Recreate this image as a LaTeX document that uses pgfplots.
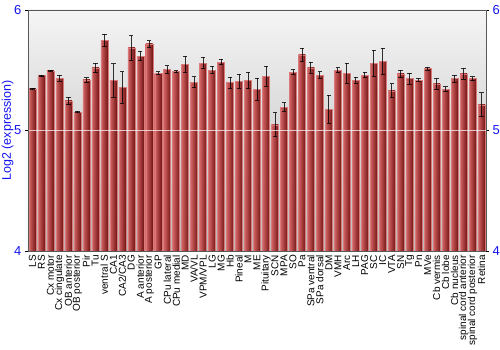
\documentclass[border=0pt]{standalone}
\usepackage{pgfplots}
\usepackage{pgfplotstable}
\pgfplotsset{compat=1.18}
\usepackage{fontspec}
\setmainfont{Liberation Sans}
\definecolor{barL}{RGB}{212,100,100}
\definecolor{barM}{RGB}{190,58,58}
\definecolor{barR}{RGB}{115,20,20}
\definecolor{tickblue}{RGB}{20,20,240}
\pgfplotstableread{
x y e
0 5.345 0.004
1 5.455 0.004
2 5.494 0.008
3 5.433 0.025
4 5.245 0.030
5 5.153 0.005
6 5.420 0.018
7 5.519 0.040
8 5.748 0.052
9 5.416 0.140
10 5.358 0.130
11 5.685 0.103
12 5.618 0.040
13 5.718 0.028
14 5.477 0.010
15 5.505 0.031
16 5.488 0.008
17 5.549 0.066
18 5.400 0.046
19 5.560 0.048
20 5.502 0.030
21 5.568 0.022
22 5.397 0.046
23 5.408 0.058
24 5.419 0.066
25 5.342 0.090
26 5.450 0.083
27 5.048 0.100
28 5.195 0.035
29 5.485 0.020
30 5.627 0.055
31 5.521 0.047
32 5.460 0.028
33 5.176 0.115
34 5.500 0.020
35 5.477 0.083
36 5.416 0.024
37 5.460 0.022
38 5.557 0.110
39 5.571 0.110
40 5.330 0.058
41 5.469 0.032
42 5.430 0.047
43 5.419 0.015
44 5.513 0.012
45 5.386 0.043
46 5.342 0.020
47 5.430 0.030
48 5.471 0.046
49 5.430 0.017
50 5.214 0.100
}\datatable
\begin{document}
\begin{tikzpicture}
\begin{axis}[
  name=main,
  scale only axis, width=458pt, height=241pt,
  xmin=-0.5, xmax=50.5, ymin=4, ymax=6,
  ytick={4,5,6},
  ytick pos=left,
  yticklabel style={tickblue, font=\fontsize{13}{13}\selectfont},
  /pgf/number format/assume math mode=true,
  ylabel={Log2 (expression)},
  ylabel style={tickblue, font=\fontsize{12.5}{12.5}\selectfont, yshift=-6pt},
  xtick={0,...,50},
  xticklabels={LS,RS,Cx motor,Cx cingulate,OB anterior,OB posterior,Pir,Tu,ventral S,CA1,CA2/CA3,DG,A anterior,A posterior,GP,CPu lateral,CPu medial,MD,VA/VL,VPM/VPL,LG,MG,Hb,Pineal,M,ME,Pituitary,SCN,MPA,SO,Pa,SPa ventral,SPa dorsal,DM,VMH,Arc,LH,PAG,SC,IC,VTA,SN,Tg,Pn,MVe,Cb vermis,Cb lobe,Cb nucleus,spinal cord anterior,spinal cord posterior,Retina},
  xticklabel style={rotate=90, anchor=east, font=\fontsize{10}{10}\selectfont, inner sep=1pt},
  x tick style={draw=none},
  y tick style={black, line width=0.6pt},
  major tick length=3pt,
  tick align=outside,
  axis line style={gray!70!black, line width=0.8pt},
  axis background/.style={shade, top color=gray!8, bottom color=gray!55},
  ymajorgrids, grid style={white, opacity=0.7, line width=0.6pt},
  axis on top,
  clip=true,
]
\pgfplotsinvokeforeach{0,...,50}{
\addplot[ybar, bar width=7pt, bar shift=0pt, draw=barL!85!white, line width=0.4pt,
  left color=barL, middle color=barM, right color=barR,
  restrict x to domain=#1:#1,
  error bars/.cd, y dir=both, y explicit,
  error bar style={black, line width=0.8pt, opacity=0.8},
  error mark options={rotate=90, mark size=2.2pt, black, line width=0.9pt}]
table[x=x, y=y, y error=e] {\datatable};
}
\end{axis}
\begin{axis}[
  at={(main.south west)}, anchor=south west,
  scale only axis, width=458pt, height=241pt,
  xmin=-0.5, xmax=50.5, ymin=4, ymax=6,
  axis x line=none, axis y line*=right,
  ytick={4,5,6},
  yticklabel style={tickblue, font=\fontsize{13}{13}\selectfont},
  /pgf/number format/assume math mode=true,
  y tick style={black, line width=0.6pt},
  major tick length=3pt, tick align=outside,
  axis line style={gray!70!black, line width=0.8pt},
]
\addplot[draw=none] coordinates {(0,4)};
\end{axis}
\pgfresetboundingbox
\path ([shift={(-28pt,-99pt)}]main.south west) rectangle ([shift={(14pt,10pt)}]main.north east);
\end{tikzpicture}
\end{document}
